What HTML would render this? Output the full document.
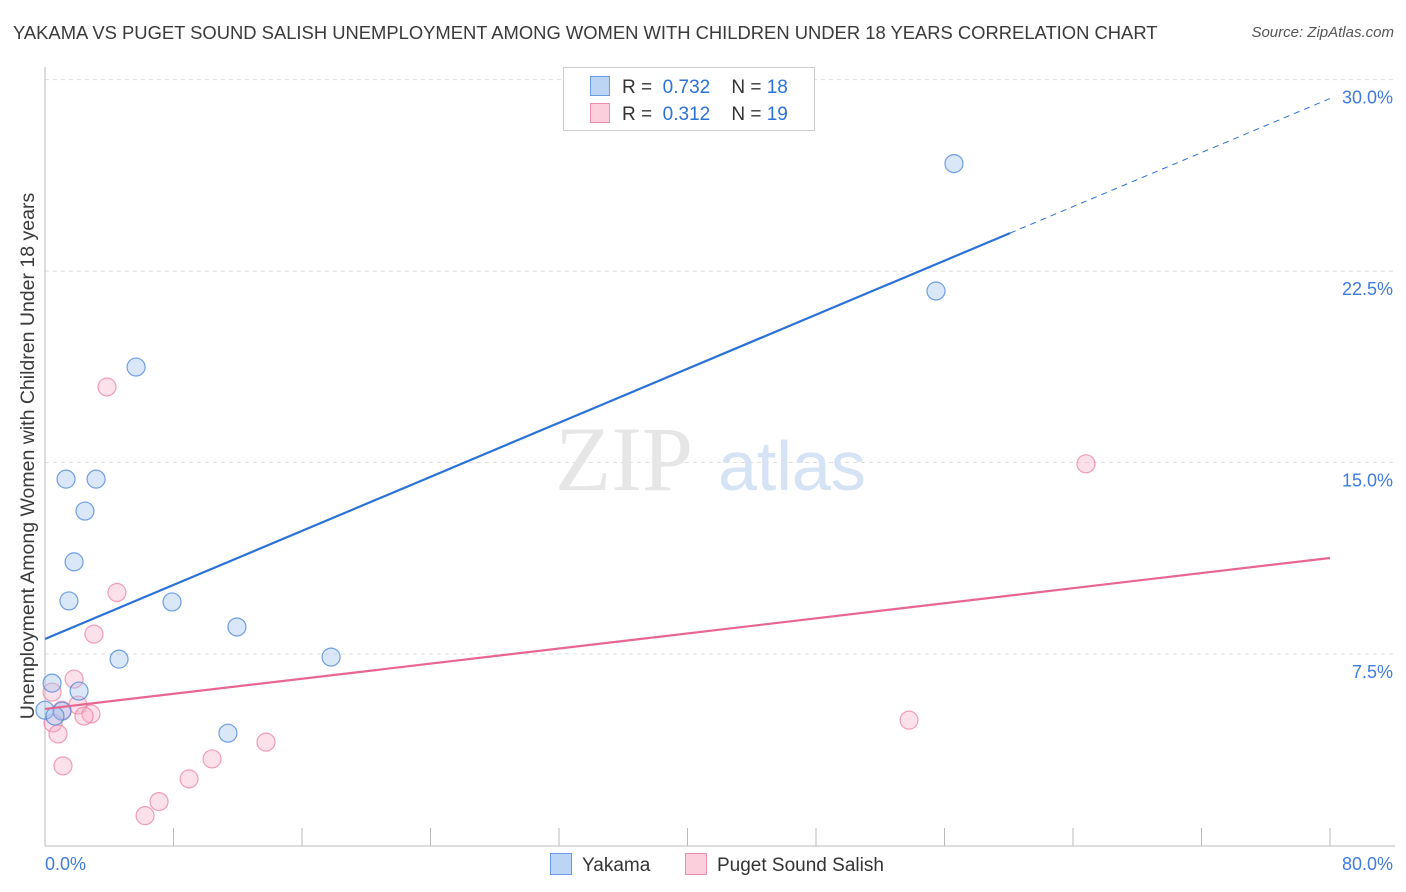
<!DOCTYPE html>
<html><head><meta charset="utf-8"><style>
body{margin:0;background:#fff;font-family:"Liberation Sans",sans-serif;}
#wrap{position:relative;width:1406px;height:892px;overflow:hidden;}
.t{position:absolute;white-space:nowrap;}
</style></head><body>
<div id="wrap">
<div class="t" style="left:13px;top:22px;font-size:18.4px;color:#3a3a3a;">YAKAMA VS PUGET SOUND SALISH UNEMPLOYMENT AMONG WOMEN WITH CHILDREN UNDER 18 YEARS CORRELATION CHART</div>
<div class="t" style="right:12px;top:24px;font-size:15px;color:#555;font-style:italic;">Source: ZipAtlas.com</div>
<svg id="svg" width="1406" height="892" style="position:absolute;left:0;top:0"></svg>
</div>
<script>
const yTicks=[7.5,15,22.5,30];
const yTickLabels=["7.5%","15.0%","22.5%","30.0%"];
const xEndLabels=["0.0%","80.0%"];
const yakamaX=[5.67,1.31,3.18,2.49,1.81,1.49,7.91,11.95,4.61,17.81,0.44,2.12,0,1.06,0.62,11.39,55.47,56.59];
const yakamaY=[18.74,14.35,14.35,13.10,11.11,9.58,9.54,8.56,7.30,7.38,6.36,6.05,5.30,5.26,5.07,4.40,21.72,26.71];
const pugetX=[3.86,4.48,3.05,1.81,0.44,2.05,2.86,2.43,1.06,0.50,0.81,1.12,10.40,8.97,7.10,6.23,13.76,64.81,53.79];
const pugetY=[17.96,9.91,8.28,6.52,6.01,5.50,5.15,5.07,5.30,4.80,4.37,3.12,3.39,2.61,1.72,1.17,4.05,14.95,4.91];
const yakamaTrend=[8.09,0.2646];
const pugetTrend=[5.35,0.0739];
const NS="http://www.w3.org/2000/svg";
const svg=document.getElementById('svg');
const X=v=>45+v/80*1285;
const Y=v=>845.5-v*25.53;
function mk(tag,attrs,parent){const e=document.createElementNS(NS,tag);for(const k in attrs)e.setAttribute(k,attrs[k]);(parent||svg).appendChild(e);return e;}
yTicks.forEach((t,i)=>{
 const g=mk('line',{x1:45,x2:1395,y1:Y(t),y2:Y(t),stroke:'#ddd','stroke-dasharray':'4,4'});
 
 
 const tx=mk('text',{x:1393,y:Y(t)+24,'text-anchor':'end','font-size':18,fill:'#3f7be0','font-family':'Liberation Sans'});
 tx.textContent=yTickLabels[i];
 
 
});
const ax=mk('line',{x1:45,x2:45,y1:67,y2:846,stroke:'#bbb'});


const bx=mk('line',{x1:45,x2:1395,y1:846,y2:846,stroke:'#bbb'});


for(let i=0;i<=10;i++){const tk=mk('line',{x1:X(i*8),x2:X(i*8),y1:828,y2:846,stroke:'#bbb'});
 
 }
[[0,'start',45],[80,'end',1393]].forEach((a,i)=>{const tx=mk('text',{x:a[2],y:870,'text-anchor':a[1],'font-size':18,fill:'#3f7be0','font-family':'Liberation Sans'});tx.textContent=xEndLabels[i];
 
 });
const wm=mk('text',{x:555,y:490,'font-size':92,fill:'#e6e6e6','font-family':'Liberation Serif'});wm.textContent='ZIP';


const wm2=mk('text',{x:718,y:490,'font-size':70,fill:'#d5e3f5','font-family':'Liberation Sans'});wm2.textContent='atlas';


const yt=mk('text',{x:0,y:0,transform:'translate(34,456) rotate(-90)','text-anchor':'middle','font-size':19.5,fill:'#3a3a3a','font-family':'Liberation Sans'});
yt.textContent='Unemployment Among Women with Children Under 18 years';


pugetX.forEach((x,i)=>{const c=mk('circle',{cx:X(x),cy:Y(pugetY[i]),r:9,fill:'rgba(248,170,195,0.35)',stroke:'rgba(235,120,160,0.7)','stroke-width':1.2});
 
 });
yakamaX.forEach((x,i)=>{const c=mk('circle',{cx:X(x),cy:Y(yakamaY[i]),r:9,fill:'rgba(160,195,240,0.4)',stroke:'rgba(70,130,220,0.75)','stroke-width':1.2});
 
 });
const bl=mk('line',{x1:X(0),y1:Y(yakamaTrend[0]),x2:X(60.08),y2:Y(yakamaTrend[0]+yakamaTrend[1]*60.08),stroke:'#2a72d8','stroke-width':2.2});


const bd=mk('line',{x1:X(60.08),y1:Y(yakamaTrend[0]+yakamaTrend[1]*60.08),x2:X(80),y2:Y(yakamaTrend[0]+yakamaTrend[1]*80),stroke:'#2a72d8','stroke-width':1,'stroke-dasharray':'6,5'});


const pl=mk('line',{x1:X(0),y1:Y(pugetTrend[0]),x2:X(80),y2:Y(pugetTrend[0]+pugetTrend[1]*80),stroke:'#e8668f','stroke-width':2.2});


</script>
<div class="t" style="left:563px;top:67px;width:250px;height:62px;border:1px solid #ccc;background:#fff;font-size:19px;color:#333;">
 <div style="position:absolute;left:26px;top:8px;"><span style="display:inline-block;width:18px;height:18px;background:#bcd5f5;border:1px solid #6a9be0;vertical-align:-3px;margin-right:12px"></span>R = <span style="color:#2a72d8">&nbsp;0.732</span>&nbsp;&nbsp;&nbsp; N = <span style="color:#2a72d8">18</span></div>
 <div style="position:absolute;left:26px;top:35px;"><span style="display:inline-block;width:18px;height:18px;background:#fbd0dc;border:1px solid #ec8fae;vertical-align:-3px;margin-right:12px"></span>R = <span style="color:#2a72d8">&nbsp;0.312</span>&nbsp;&nbsp;&nbsp; N = <span style="color:#2a72d8">19</span></div>
</div>
<div class="t" style="left:550px;top:853px;font-size:19px;color:#333;"><span style="display:inline-block;width:20px;height:20px;background:#bcd5f5;border:1px solid #6a9be0;vertical-align:-4px;margin-right:10px"></span>Yakama</div>
<div class="t" style="left:685px;top:853px;font-size:19px;color:#333;"><span style="display:inline-block;width:20px;height:20px;background:#fbd0dc;border:1px solid #ec8fae;vertical-align:-4px;margin-right:10px"></span>Puget Sound Salish</div>
</body></html>
